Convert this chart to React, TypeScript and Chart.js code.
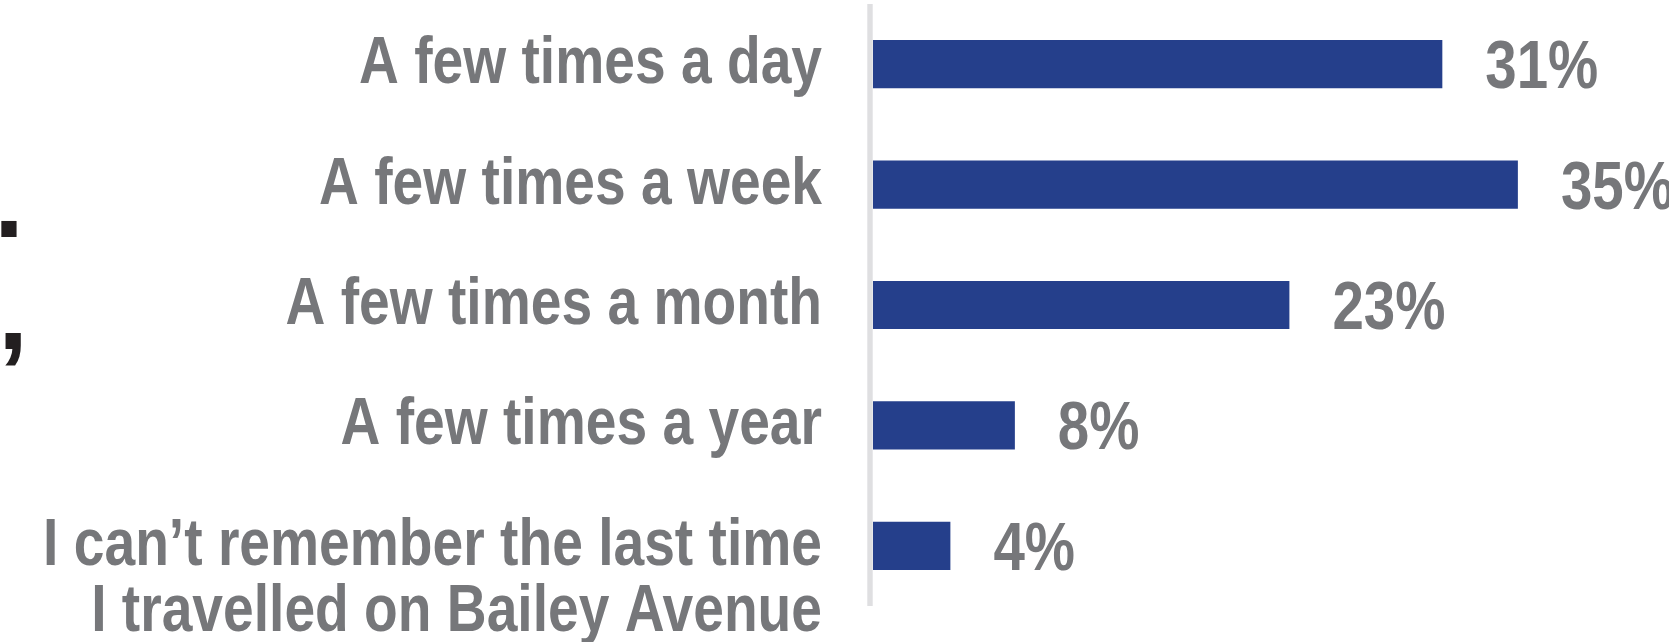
import React, { useEffect, useRef } from "react";
import { Chart, registerables } from "chart.js";

Chart.register(...registerables);

const categories: (string | string[])[] = [
  "A few times a day",
  "A few times a week",
  "A few times a month",
  "A few times a year",
  ["I can\u2019t remember the last time", "I travelled on Bailey Avenue"],
];
const values = [30.9, 35.0, 22.6, 7.7, 4.2];
const valueLabels = ["31%", "35%", "23%", "8%", "4%"];
const xMax = 40;

const FONT_FAMILY = '"Liberation Sans", Arial, sans-serif';
const LABEL_COLOR = "#76777a";
const BAR_COLOR = "#253f8b";
const AXIS_COLOR = "#dfdfe1";

function narrowText(ctx: CanvasRenderingContext2D, text: string, x: number, y: number, sx: number) {
  ctx.save();
  ctx.translate(x, y);
  ctx.scale(sx, 1);
  ctx.fillText(text, 0, 0);
  ctx.restore();
}

const customPlugin = {
  id: "customDraw",
  beforeDatasetsDraw(chart: any) {
    const { ctx, chartArea } = chart;
    ctx.save();
    ctx.fillStyle = AXIS_COLOR;
    ctx.fillRect(chartArea.left - 5.7, chartArea.top, 5.4, chartArea.bottom - chartArea.top);
    ctx.restore();
  },
  afterDatasetsDraw(chart: any) {
    const { ctx, chartArea } = chart;
    const yScale = chart.scales.y;
    const meta = chart.getDatasetMeta(0);
    ctx.save();
    // category labels
    ctx.fillStyle = LABEL_COLOR;
    ctx.font = `bold 66px ${FONT_FAMILY}`;
    ctx.textAlign = "right";
    ctx.textBaseline = "alphabetic";
    categories.forEach((cat, i) => {
      const cy = yScale.getPixelForValue(i);
      const lines = Array.isArray(cat) ? cat : [cat];
      lines.forEach((line, j) => {
        narrowText(ctx, line, chartArea.left - 51, cy + 19 + j * 66, 0.836);
      });
    });
    // value labels
    ctx.font = `bold 68px ${FONT_FAMILY}`;
    ctx.textAlign = "left";
    ctx.textBaseline = "alphabetic";
    meta.data.forEach((bar: any, i: number) => {
      narrowText(ctx, valueLabels[i], bar.x + 43, bar.y + 24, 0.83);
    });
    // stray punctuation at the left edge
    ctx.fillStyle = "#231f20";
    ctx.font = 'bold 108px "Liberation Sans", Arial, sans-serif';
    ctx.textBaseline = "alphabetic";
    ctx.fillText(".", -6, 237);
    ctx.fillText(",", -2, 349);
    ctx.restore();
  },
};

export default function App() {
  const canvasRef = useRef<HTMLCanvasElement | null>(null);

  useEffect(() => {
    if (!canvasRef.current) return;
    const chart = new Chart(canvasRef.current, {
      type: "bar",
      data: {
        labels: categories as any,
        datasets: [
          {
            data: values,
            backgroundColor: BAR_COLOR,
            borderWidth: 0,
            barPercentage: 0.4,
            categoryPercentage: 1.0,
          },
        ],
      },
      options: {
        indexAxis: "y",
        animation: false,
        responsive: false,
        maintainAspectRatio: false,
        layout: { padding: { left: 873, right: 59, top: 4, bottom: 36 } },
        plugins: {
          legend: { display: false },
          tooltip: { enabled: false },
          title: { display: false },
        },
        scales: {
          x: { display: false, min: 0, max: xMax },
          y: { display: false },
        },
      },
      plugins: [customPlugin],
    });
    return () => chart.destroy();
  }, []);

  return (
    <div style={{ position: "fixed", left: 0, top: 0, width: 1669, height: 642, background: "#ffffff" }}>
      <canvas ref={canvasRef} width={1669} height={642} style={{ display: "block" }} />
    </div>
  );
}
